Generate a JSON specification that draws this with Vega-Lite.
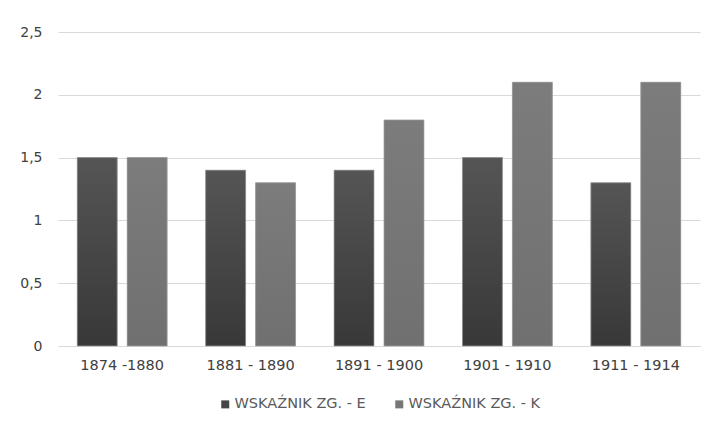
{
  "$schema": "https://vega.github.io/schema/vega-lite/v6.json",
  "width": 642,
  "height": 314,
  "autosize": "none",
  "padding": {"left": 58, "top": 32, "right": 13, "bottom": 87},
  "background": "white",
  "data": {
    "values": [
      {"okres": "1874 -1880", "seria": "WSKAŹNIK ZG. - E", "wartosc": 1.5},
      {"okres": "1874 -1880", "seria": "WSKAŹNIK ZG. - K", "wartosc": 1.5},
      {"okres": "1881 - 1890", "seria": "WSKAŹNIK ZG. - E", "wartosc": 1.4},
      {"okres": "1881 - 1890", "seria": "WSKAŹNIK ZG. - K", "wartosc": 1.3},
      {"okres": "1891 - 1900", "seria": "WSKAŹNIK ZG. - E", "wartosc": 1.4},
      {"okres": "1891 - 1900", "seria": "WSKAŹNIK ZG. - K", "wartosc": 1.8},
      {"okres": "1901 - 1910", "seria": "WSKAŹNIK ZG. - E", "wartosc": 1.5},
      {"okres": "1901 - 1910", "seria": "WSKAŹNIK ZG. - K", "wartosc": 2.1},
      {"okres": "1911 - 1914", "seria": "WSKAŹNIK ZG. - E", "wartosc": 1.3},
      {"okres": "1911 - 1914", "seria": "WSKAŹNIK ZG. - K", "wartosc": 2.1}
    ]
  },
  "encoding": {
    "x": {
      "field": "okres", "type": "nominal", "sort": null,
      "scale": {"paddingInner": 0.3, "paddingOuter": 0.15},
      "axis": {"title": null, "labelAngle": 0, "ticks": false, "domain": true, "domainColor": "#d9d9d9", "domainWidth": 1, "labelPadding": 12, "labelFontSize": 14.5, "labelColor": "#404040", "grid": false}
    },
    "xOffset": {
      "field": "seria", "type": "nominal",
      "scale": {"paddingInner": 0.2, "paddingOuter": 0}
    },
    "y": {
      "field": "wartosc", "type": "quantitative",
      "scale": {"domain": [0, 2.5]},
      "axis": {"title": null, "values": [0, 0.5, 1, 1.5, 2, 2.5], "labelExpr": "replace(toString(datum.value), '.', ',')", "domain": false, "ticks": false, "grid": true, "gridColor": "#d9d9d9", "gridWidth": 1, "labelPadding": 16, "labelFontSize": 14, "labelColor": "#404040"}
    }
  },
  "layer": [
    {
      "mark": {"type": "bar"},
      "encoding": {
        "color": {
          "field": "seria", "type": "nominal",
          "scale": {"domain": ["WSKAŹNIK ZG. - E", "WSKAŹNIK ZG. - K"], "range": ["#454545", "#777777"]},
          "legend": {"title": null, "orient": "bottom", "direction": "horizontal", "symbolType": "square", "symbolSize": 64, "symbolStrokeWidth": 0, "labelFontSize": 14.5, "labelColor": "#595959", "columnPadding": 26, "labelOffset": 2, "offset": 25}
        }
      }
    },
    {
      "mark": {"type": "bar", "stroke": "#a0a0a0", "strokeWidth": 0.7},
      "encoding": {
        "fill": {
          "condition": {
            "test": "datum.seria === 'WSKAŹNIK ZG. - E'",
            "value": {"gradient": "linear", "x1": 0, "y1": 0, "x2": 0, "y2": 1, "stops": [{"offset": 0, "color": "#555555"}, {"offset": 1, "color": "#383838"}]}
          },
          "value": {"gradient": "linear", "x1": 0, "y1": 0, "x2": 0, "y2": 1, "stops": [{"offset": 0, "color": "#7c7c7c"}, {"offset": 1, "color": "#707070"}]}
        }
      }
    }
  ],
  "config": {
    "view": {"stroke": null},
    "font": "DejaVu Sans",
    "legend": {"layout": {"bottom": {"anchor": "middle"}}}
  }
}
